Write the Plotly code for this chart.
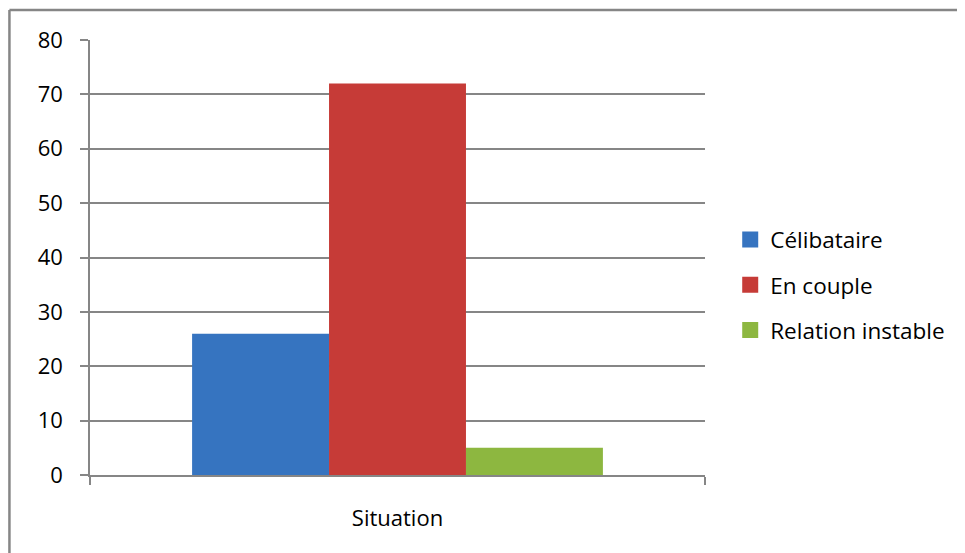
import plotly.graph_objects as go

categories = ["Situation"]
series_names = ["Célibataire", "En couple", "Relation instable"]
series_values = [[26], [72], [5]]
series_colors = ["#3674C0", "#C63B37", "#8DB740"]
y_ticks = [0, 10, 20, 30, 40, 50, 60, 70, 80]

FONT = "'Open Sans', Lato, sans-serif"

fig = go.Figure()
for i, (name, vals, col) in enumerate(zip(series_names, series_values, series_colors)):
    fig.add_trace(go.Bar(
        x=categories, y=vals, name=name,
        marker=dict(color=col, line=dict(width=0)),
        showlegend=False,
    ))
# legend entries with larger square swatches
for i, (name, col) in enumerate(zip(series_names, series_colors)):
    fig.add_trace(go.Scatter(
        x=[None], y=[None], mode="markers", name=name,
        marker=dict(symbol="square", size=16, color=col),
        legendgroup=f"g{i}", showlegend=True,
    ))

fig.update_layout(
    width=957, height=545,
    margin=dict(l=82, r=260, t=32, b=78),
    paper_bgcolor="white", plot_bgcolor="white",
    barmode="group", bargap=0.332, bargroupgap=0,
    font=dict(family=FONT, size=22, color="#000000"),
    showlegend=True,
    legend=dict(
        x=1.041, xanchor="left", y=0.437, yanchor="middle",
        traceorder="grouped", tracegroupgap=13,
        font=dict(family=FONT, size=22.5, color="#000000"),
        itemwidth=30, bgcolor="rgba(0,0,0,0)",
    ),
    xaxis=dict(
        type="category", showgrid=False, zeroline=False,
        showline=True, linecolor="#868686", linewidth=1.5,
        ticks="outside", tickson="boundaries", ticklen=8, tickcolor="#868686", tickwidth=1.5,
        ticklabelstandoff=23,
        tickfont=dict(family=FONT, size=22, color="#000000"),
    ),
    yaxis=dict(
        range=[0, 80], tickvals=y_ticks,
        showgrid=True, gridcolor="#868686", gridwidth=1.5,
        zeroline=False,
        showline=True, linecolor="#868686", linewidth=1.5,
        ticks="outside", ticklen=8, tickcolor="#868686", tickwidth=1.5,
        ticklabelstandoff=13,
        tickfont=dict(family=FONT, size=22, color="#000000"),
    ),
)

# outer chart frame (left and top edges visible)
fig.add_shape(type="line", xref="paper", yref="paper",
              x0=-0.131, x1=-0.131, y0=-0.3, y1=1.069,
              line=dict(color="#868686", width=2.5))
fig.add_shape(type="line", xref="paper", yref="paper",
              x0=-0.131, x1=1.6, y0=1.069, y1=1.069,
              line=dict(color="#868686", width=2.5))

fig.write_html("out.html")
